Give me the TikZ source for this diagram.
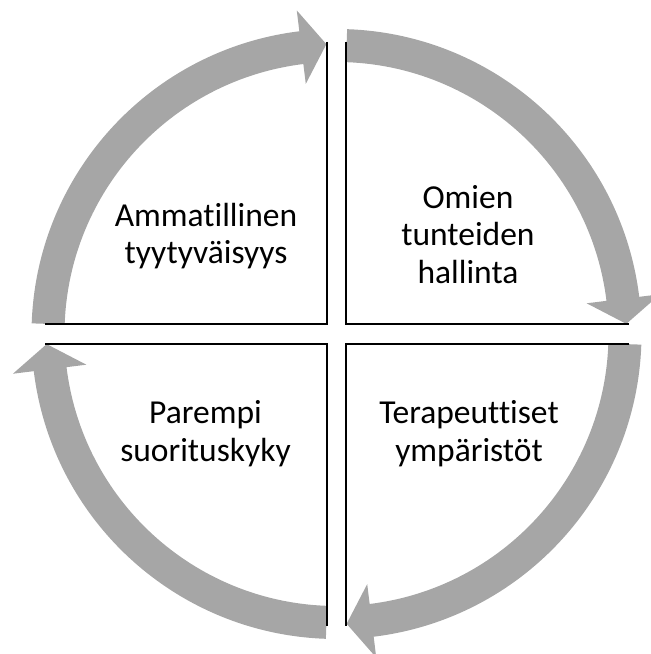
\documentclass[tikz,border=0pt]{standalone}
\usepackage{fontspec}
\setmainfont[Ligatures=NoCommon]{Carlito}
\definecolor{arrowgray}{HTML}{A6A6A6}
\begin{document}
\begin{tikzpicture}[x=1pt,y=1pt,
  cyclearrow/.style={fill=arrowgray},
  quadedge/.style={draw=black,line width=2.4pt,line join=miter},
  cyclabel/.style={align=center,font=\fontsize{33.5}{37.5}\selectfont,inner sep=0pt}]
\useasboundingbox (0,0) rectangle (651,654);
\coordinate (C) at (336.5,320);
\begin{scope}[shift={(C)}]
  % four curved arrows running clockwise: start angle / head base / tip
  \foreach \a/\b/\t in {178/97/92, 88/7/2, -2/-83/-88, -92/-173/-178}{
    \fill[cyclearrow] (\a:305pt) arc[start angle=\a,end angle=\b,radius=305pt]
      -- (\b:326pt) -- (\t:290pt) -- (\b:252pt) -- (\b:272pt)
      arc[start angle=\b,end angle=\a,radius=272pt] -- cycle;
  }
  % straight edges of the four quadrants
  \draw[quadedge] (-9.5,292) -- (-9.5,10) -- (-292,10);
  \draw[quadedge] (9.5,292) -- (9.5,10) -- (292,10);
  \draw[quadedge] (9.5,-292) -- (9.5,-10) -- (292,-10);
  \draw[quadedge] (-9.5,-292) -- (-9.5,-10) -- (-292,-10);
\end{scope}
\node[cyclabel] (ammat) at (206,418) {Ammatillinen\\tyytyväisyys};
\node[cyclabel] (omien) at (468,419.5) {Omien\\tunteiden\\hallinta};
\node[cyclabel] (parempi) at (205.5,220.5) {Parempi\\suorituskyky};
\node[cyclabel] (terap) at (469,220.5) {Terapeuttiset\\ympäristöt};
\end{tikzpicture}
\end{document}
